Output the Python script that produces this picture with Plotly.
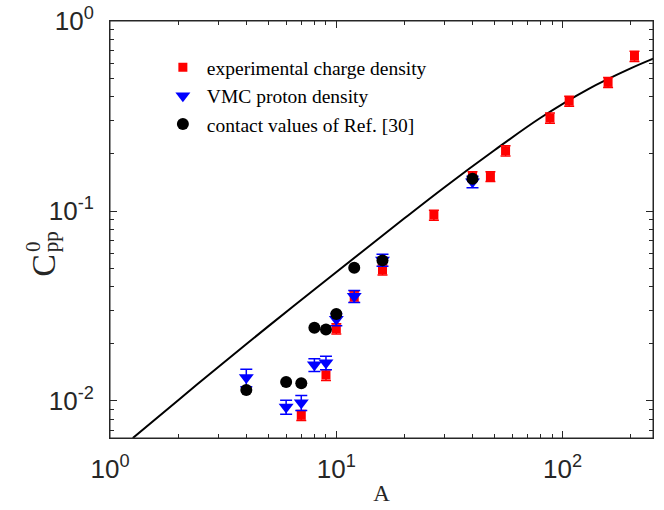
import plotly.graph_objects as go

# experimental charge density (red squares)
exp_A = [7, 9, 10, 12, 16, 27, 40, 48, 56, 88, 107, 159, 208]
exp_C = [0.0084, 0.0137, 0.0240, 0.0354, 0.0490, 0.0953, 0.152, 0.152, 0.208, 0.309, 0.379, 0.476, 0.654]
exp_err = [0.0005, 0.0009, 0.0015, 0.0022, 0.0030, 0.0058, 0.009, 0.009, 0.013, 0.019, 0.023, 0.029, 0.040]

# VMC proton density (blue down triangles)
vmc_A = [4, 6, 7, 8, 9, 10, 12, 16, 40]
vmc_C = [0.0133, 0.0093, 0.0098, 0.0155, 0.0159, 0.0269, 0.0356, 0.0552, 0.1426]
vmc_err = [0.0014, 0.0008, 0.0009, 0.0012, 0.0013, 0.0020, 0.0026, 0.0040, 0.0100]

# contact values of Ref. [30] (black circles)
ref_A = [4, 6, 7, 8, 9, 10, 12, 16, 40]
ref_C = [0.01143, 0.0126, 0.0124, 0.0243, 0.0238, 0.0287, 0.0503, 0.0550, 0.148]
ref_err = [0.0003, 0.0003, 0.0003, 0.0006, 0.0006, 0.0007, 0.0012, 0.0013, 0.004]

# black curve
curve_A = [1.26, 2, 3, 5, 8, 13, 20, 30, 50, 80, 130, 200, 252]
curve_C = [0.00638, 0.0101, 0.01506, 0.0247, 0.0386, 0.0611, 0.0916, 0.1332, 0.209, 0.310, 0.439, 0.564, 0.635]

x_major = [1, 10, 100]
x_major_text = ["10<sup>0</sup>", "10<sup>1</sup>", "10<sup>2</sup>"]
x_minor = [2, 3, 4, 5, 6, 7, 8, 9, 20, 30, 40, 50, 60, 70, 80, 90, 200]
y_major = [0.01, 0.1, 1]
y_major_text = ["10<sup>-2</sup>", "10<sup>-1</sup>", "10<sup>0</sup>"]
y_minor = [0.007, 0.008, 0.009, 0.02, 0.03, 0.04, 0.05, 0.06, 0.07, 0.08, 0.09,
           0.2, 0.3, 0.4, 0.5, 0.6, 0.7, 0.8, 0.9]

fig = go.Figure()
fig.add_trace(go.Scatter(x=curve_A, y=curve_C, mode="lines", line=dict(color="black", width=2, shape="spline"),
                         showlegend=False, hoverinfo="skip"))
fig.add_trace(go.Scatter(x=exp_A, y=exp_C, mode="markers", name="experimental charge density",
                         marker=dict(symbol="square", size=9, color="#ff0000"),
                         error_y=dict(type="data", array=exp_err, color="#ff0000", thickness=1.5, width=5)))
fig.add_trace(go.Scatter(x=vmc_A, y=vmc_C, mode="markers", name="VMC proton density",
                         marker=dict(symbol="triangle-down", size=13, color="#0000ff"),
                         error_y=dict(type="data", array=vmc_err, color="#0000ff", thickness=1.5, width=6)))
fig.add_trace(go.Scatter(x=ref_A, y=ref_C, mode="markers", name="contact values of Ref. [30]",
                         marker=dict(symbol="circle", size=12, color="black"),
                         error_y=dict(type="data", array=ref_err, color="black", thickness=1.5, width=5)))

axis_common = dict(type="log", showgrid=False, zeroline=False, showline=True, linecolor="#262626",
                   linewidth=1, mirror="ticks", ticks="inside", ticklen=7, tickcolor="#262626",
                   automargin=False, ticklabeloverflow="allow",
                   tickfont=dict(family="Liberation Sans, Arial", size=26, color="#262626"))

fig.update_xaxes(range=[-0.0005, 2.40], tickvals=x_major, ticktext=x_major_text, ticklabelstandoff=8,
                 minor=dict(tickvals=x_minor, ticks="inside", ticklen=4, tickcolor="#262626"),
                 title=dict(text="A", font=dict(family="Liberation Serif, Times New Roman", size=23, color="#262626"),
                            standoff=1),
                 **axis_common)
fig.update_yaxes(range=[-2.195, 0.001], tickvals=y_major, ticktext=y_major_text, ticklabelstandoff=10,
                 minor=dict(tickvals=y_minor, ticks="inside", ticklen=4, tickcolor="#262626"),
                 **axis_common)

# frame box around the plotting area
fig.add_shape(type="rect", xref="paper", yref="paper", x0=0, y0=0, x1=1, y1=1,
              line=dict(color="#262626", width=1), layer="above")

# y-axis title: C with stacked superscript 0 and subscript pp
serif = "Liberation Serif, Times New Roman"
fig.add_annotation(xref="paper", yref="paper", x=-0.122, y=0.415, text="C", showarrow=False, textangle=-90,
                   font=dict(family=serif, size=34, color="#262626"),
                   xanchor="center", yanchor="middle")
fig.add_annotation(xref="paper", yref="paper", x=-0.142, y=0.46, text="0", showarrow=False, textangle=-90,
                   font=dict(family=serif, size=21, color="#262626"),
                   xanchor="center", yanchor="middle")
fig.add_annotation(xref="paper", yref="paper", x=-0.108, y=0.47, text="pp", showarrow=False, textangle=-90,
                   font=dict(family=serif, size=21, color="#262626"),
                   xanchor="center", yanchor="middle")

fig.update_layout(width=664, height=510, margin=dict(l=110, r=11, t=21, b=72),
                  plot_bgcolor="white", paper_bgcolor="white",
                  legend=dict(x=0.09, y=0.935, xanchor="left", yanchor="top", bgcolor="rgba(0,0,0,0)",
                              font=dict(family=serif, size=19.5, color="black"),
                              itemwidth=38))

# remove the default 8 px page margin so the figure sits at the window's top-left corner
fig.write_html("out.html", config={"displayModeBar": False},
               post_script="document.body.style.margin='0';document.body.style.overflow='hidden';")
